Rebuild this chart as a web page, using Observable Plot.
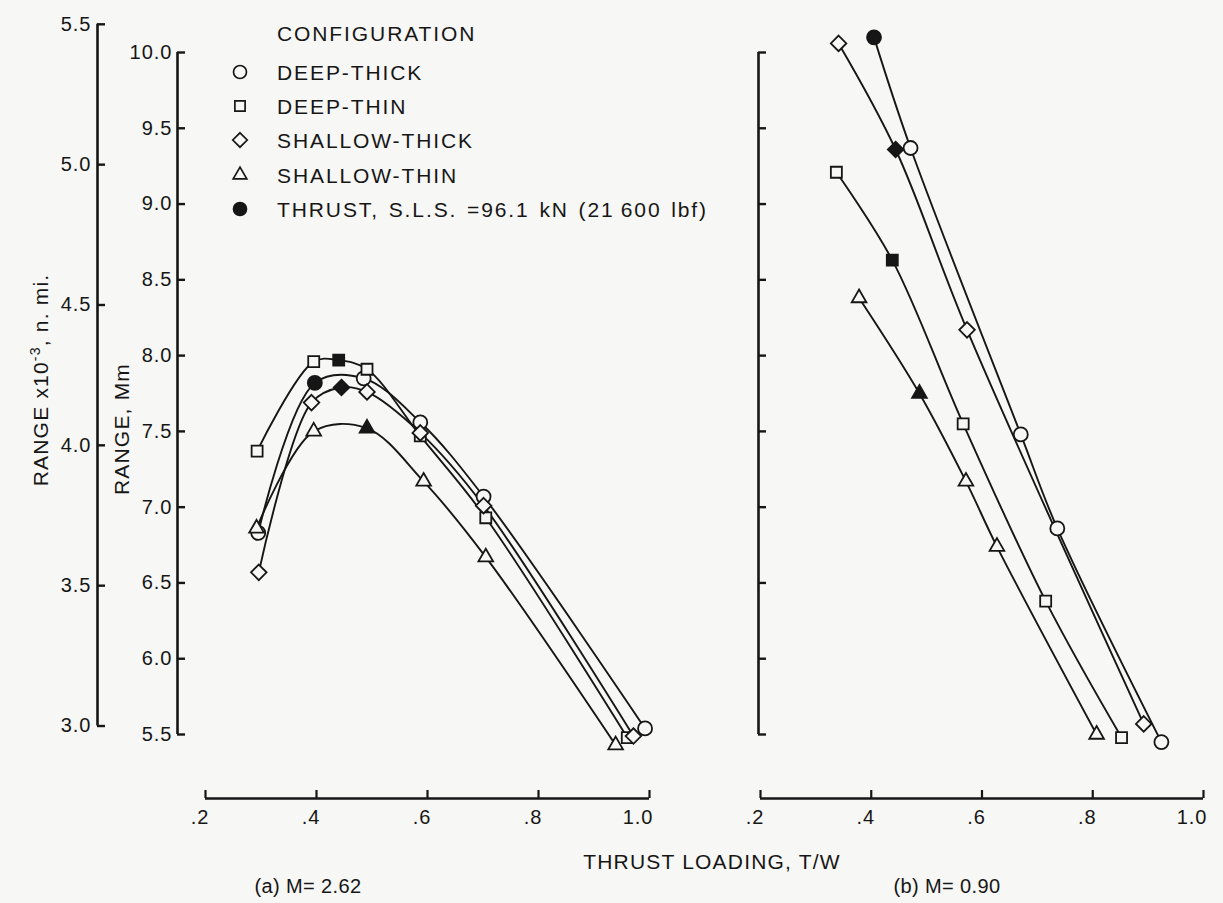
<!DOCTYPE html>
<html>
<head>
<meta charset="utf-8">
<script src="https://cdn.jsdelivr.net/npm/d3@7"></script>
<script src="https://cdn.jsdelivr.net/npm/@observablehq/plot@0.6"></script>
<style>
  body { margin: 0; background: #f7f7f5; }
  #fig { position: relative; width: 1223px; height: 903px; background: #f7f7f5; overflow: hidden;
         font-family: "Liberation Sans", Arial, sans-serif; color: #161616; }
  #fig svg.plot { position: absolute; top: 0; }
  .lbl { position: absolute; white-space: nowrap; font-size: 21px; line-height: 1; letter-spacing: 1.2px; }
  .lbl.leg { letter-spacing: 1.9px; }
  .lbl.sm { font-size: 20px; letter-spacing: 0.4px; }
  .lbl.wide { word-spacing: 2px; }
  .lbl sup { font-size: 14px; vertical-align: 8px; line-height: 0; }
</style>
</head>
<body>
<div id="fig"></div>
<script>
// ---------------- data ----------------
const configs = ["DEEP-THICK", "DEEP-THIN", "SHALLOW-THICK", "SHALLOW-THIN"];
const symbolNames = ["circle", "square2", "diamond2", "triangle2"];
const legendTitle = "CONFIGURATION";
const legendThrust = "THRUST, S.L.S. =96.1 kN (21\u2009600 lbf)";

const mmTicks = [5.5, 6.0, 6.5, 7.0, 7.5, 8.0, 8.5, 9.0, 9.5, 10.0];
const nmiTicks = [3.0, 3.5, 4.0, 4.5, 5.0, 5.5];
const NMI_TO_MM = 1.852; // thousand n. mi. -> Mm
const xTicks = [0.2, 0.4, 0.6, 0.8, 1.0];
const xTickLabels = [".2", ".4", ".6", ".8", "1.0"];

// (a) M = 2.62   (tw = thrust loading T/W, rng = range in Mm, sls = 1 for the 96.1 kN point)
const a_deepThick_tw  = [0.295, 0.397, 0.485, 0.587, 0.701, 0.992];
const a_deepThick_rng = [6.83, 7.82, 7.85, 7.56, 7.07, 5.54];
const a_deepThick_sls = [0, 1, 0, 0, 0, 0];
const a_deepThin_tw   = [0.293, 0.395, 0.440, 0.491, 0.587, 0.705, 0.960];
const a_deepThin_rng  = [7.37, 7.96, 7.97, 7.91, 7.47, 6.93, 5.48];
const a_deepThin_sls  = [0, 0, 1, 0, 0, 0, 0];
const a_shallowThick_tw  = [0.296, 0.391, 0.445, 0.491, 0.587, 0.701, 0.971];
const a_shallowThick_rng = [6.57, 7.69, 7.79, 7.76, 7.49, 7.01, 5.49];
const a_shallowThick_sls = [0, 0, 1, 0, 0, 0, 0];
const a_shallowThin_tw   = [0.292, 0.395, 0.491, 0.593, 0.705, 0.939];
const a_shallowThin_rng  = [6.86, 7.50, 7.52, 7.17, 6.67, 5.43];
const a_shallowThin_sls  = [0, 0, 1, 0, 0, 0];

// (b) M = 0.90
const b_deepThick_tw  = [0.405, 0.471, 0.670, 0.736, 0.924];
const b_deepThick_rng = [10.10, 9.37, 7.48, 6.86, 5.45];
const b_deepThick_sls = [1, 0, 0, 0, 0];
const b_deepThin_tw   = [0.337, 0.438, 0.566, 0.715, 0.852];
const b_deepThin_rng  = [9.21, 8.63, 7.55, 6.38, 5.48];
const b_deepThin_sls  = [0, 1, 0, 0, 0];
const b_shallowThick_tw  = [0.341, 0.444, 0.573, 0.892];
const b_shallowThick_rng = [10.06, 9.36, 8.17, 5.57];
const b_shallowThick_sls = [0, 1, 0, 0];
const b_shallowThin_tw   = [0.378, 0.487, 0.571, 0.627, 0.807];
const b_shallowThin_rng  = [8.38, 7.75, 7.17, 6.74, 5.50];
const b_shallowThin_sls  = [0, 1, 0, 0, 0];

// ---------------- build tables ----------------
function series(config, tw, rng, sls) {
  return tw.map((t, i) => ({config, tw: t, range: rng[i], sls: sls[i]}));
}
const dataA = [
  ...series(configs[0], a_deepThick_tw, a_deepThick_rng, a_deepThick_sls),
  ...series(configs[1], a_deepThin_tw, a_deepThin_rng, a_deepThin_sls),
  ...series(configs[2], a_shallowThick_tw, a_shallowThick_rng, a_shallowThick_sls),
  ...series(configs[3], a_shallowThin_tw, a_shallowThin_rng, a_shallowThin_sls)
];
const dataB = [
  ...series(configs[0], b_deepThick_tw, b_deepThick_rng, b_deepThick_sls),
  ...series(configs[1], b_deepThin_tw, b_deepThin_rng, b_deepThin_sls),
  ...series(configs[2], b_shallowThick_tw, b_shallowThick_rng, b_shallowThick_sls),
  ...series(configs[3], b_shallowThin_tw, b_shallowThin_rng, b_shallowThin_sls)
];

// ---------------- styles ----------------
const INK = "#161616";
const PAPER = "#f7f7f5";
const FONT = "'Liberation Sans', Arial, sans-serif";
const H = 903, MT = 52, MB = 169;
const frameH = H - MT - MB;

function panel({data, left, width, marginLeft, marginRight, yAxisDx, withLabels, curve}) {
  const frameW = width - marginLeft - marginRight;
  const yLo = mmTicks[0], yHi = mmTicks[mmTicks.length - 1];
  const marks = [
    // Mm axis
    Plot.ruleX([xTicks[0]], {y1: () => yLo, y2: () => yHi, dx: yAxisDx, stroke: INK, strokeWidth: 2.6}),
    Plot.tickY(mmTicks, {y: d => d, dx: yAxisDx, insetRight: frameW - 8, stroke: INK, strokeWidth: 2.4}),
    // x axis (offset below the frame)
    Plot.ruleY([yLo], {x1: () => xTicks[0], x2: () => xTicks[xTicks.length - 1], dy: 64, stroke: INK, strokeWidth: 2.6}),
    Plot.tickX(xTicks, {x: d => d, dy: 64, insetTop: frameH - 8, stroke: INK, strokeWidth: 2.2}),
    Plot.text(xTicks, {x: d => d, text: (d, i) => xTickLabels[i], frameAnchor: "bottom", dy: 89, dx: 4,
                       textAnchor: "end", fill: INK, fontSize: 20}),
    // data
    Plot.line(data, {x: "tw", y: "range", z: "config", curve, stroke: INK, strokeWidth: 1.9}),
    Plot.dot(data, {filter: d => !d.sls, x: "tw", y: "range", symbol: "config", r: 7, fill: PAPER, stroke: INK, strokeWidth: 1.8}),
    Plot.dot(data, {filter: d => d.sls, x: "tw", y: "range", symbol: "config", r: 7, fill: INK, stroke: INK, strokeWidth: 1.8})
  ];
  if (withLabels) {
    const nLo = nmiTicks[0] * NMI_TO_MM, nHi = nmiTicks[nmiTicks.length - 1] * NMI_TO_MM;
    marks.push(
      Plot.text(mmTicks, {y: d => d, text: d => d.toFixed(1), frameAnchor: "left", dx: yAxisDx - 5,
                          textAnchor: "end", fill: INK, fontSize: 20}),
      Plot.ruleX([xTicks[0]], {y1: () => nLo, y2: () => nHi, dx: -108, stroke: INK, strokeWidth: 2.6}),
      Plot.tickY(nmiTicks, {y: d => d * NMI_TO_MM, dx: -108, insetRight: frameW - 8, stroke: INK, strokeWidth: 2.4}),
      Plot.text(nmiTicks, {y: d => d * NMI_TO_MM, text: d => d.toFixed(1), frameAnchor: "left", dx: -114,
                           textAnchor: "end", fill: INK, fontSize: 20})
    );
  }
  const svg = Plot.plot({
    width, height: H, marginLeft, marginRight, marginTop: MT, marginBottom: MB,
    x: {domain: [xTicks[0], xTicks[xTicks.length - 1]], axis: null},
    y: {domain: [yLo, yHi], axis: null},
    symbol: {domain: configs, range: symbolNames},
    style: {background: "transparent", fontFamily: FONT, fontSize: "20px", letterSpacing: "1px", overflow: "visible"},
    marks
  });
  svg.classList.add("plot");
  svg.style.left = left + "px";
  svg.style.maxWidth = "none";
  return svg;
}

const fig = document.getElementById("fig");
fig.appendChild(panel({data: dataA, left: 0, width: 700, marginLeft: 205, marginRight: 51, yAxisDx: -28, withLabels: true, curve: "catmull-rom"}));
fig.appendChild(panel({data: dataB, left: 700, width: 523, marginLeft: 60, marginRight: 20, yAxisDx: -2, withLabels: false, curve: "catmull-rom"}));

// ---------------- text labels (HTML) ----------------
function label(html, x, y, rotate, cls) {
  const el = document.createElement("div");
  el.className = "lbl" + (cls ? " " + cls : "");
  el.innerHTML = html;
  el.style.left = x + "px";
  el.style.top = y + "px";
  el.style.transform = "translate(-50%,-50%)" + (rotate ? " rotate(-90deg)" : "");
  fig.appendChild(el);
  return el;
}
label("RANGE x10<sup>-3</sup>, n. mi.", 40, 380, true);
label("RANGE, Mm", 121, 429, true);
label("THRUST LOADING, T/W", 712, 861);
label("(a) M= 2.62", 308, 886, false, "sm");
label("(b) M= 0.90", 947, 886, false, "sm");

// legend
const legend = document.createElement("div");
legend.style.position = "absolute"; legend.style.left = "0px"; legend.style.top = "0px";
fig.appendChild(legend);
function legendRow(text, y, symbolType, filled, cls) {
  const t = document.createElement("div");
  t.className = "lbl leg" + (cls ? " " + cls : "");
  t.textContent = text;
  t.style.left = "277px"; t.style.top = (y - 10) + "px";
  legend.appendChild(t);
  if (symbolType) {
    const s = d3.create("svg").attr("width", 24).attr("height", 24)
      .style("position", "absolute").style("left", (240 - 12) + "px").style("top", (y - 12) + "px");
    s.append("path").attr("transform", "translate(12,12)")
      .attr("d", d3.symbol(symbolType, Math.PI * 6.5 * 6.5)())
      .attr("fill", filled ? INK : "none").attr("stroke", INK).attr("stroke-width", 1.7);
    legend.appendChild(s.node());
  }
}
const legendSymbols = [d3.symbolCircle, d3.symbolSquare2, d3.symbolDiamond2, d3.symbolTriangle2];
legendRow(legendTitle, 33, null, false);
configs.forEach((c, i) => legendRow(c, 72 + 34.2 * i, legendSymbols[i], false));
legendRow(legendThrust, 72 + 34.2 * 4, d3.symbolCircle, true, "wide");
</script>
</body>
</html>
